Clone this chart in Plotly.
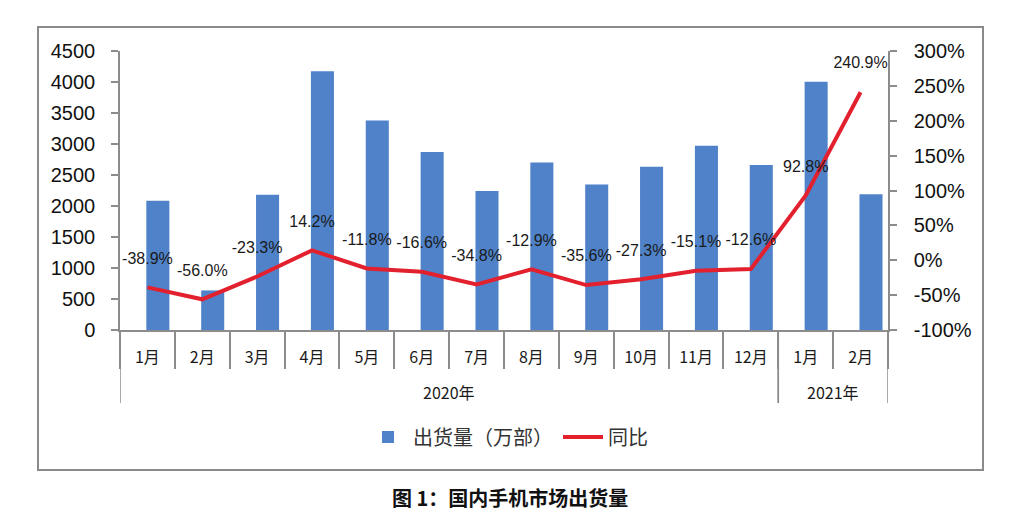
import plotly.graph_objects as go

years = ["2020年"] * 12 + ["2021年"] * 2
months = ["1月", "2月", "3月", "4月", "5月", "6月", "7月", "8月", "9月", "10月", "11月", "12月", "1月", "2月"]
shipments = [2083, 638, 2181, 4173, 3380, 2872, 2241, 2700, 2348, 2634, 2971, 2662, 4005, 2190]
yoy = [-38.9, -56.0, -23.3, 14.2, -11.8, -16.6, -34.8, -12.9, -35.6, -27.3, -15.1, -12.6, 92.8, 240.9]
yoy_labels = [f"{v:.1f}%" for v in yoy]
left_ticks = list(range(0, 4501, 500))
right_ticks = list(range(-100, 301, 50))
right_ticktext = [f"{v}%" for v in right_ticks]

FONT = "Liberation Sans, Arial, Noto Sans CJK SC, sans-serif"
CJK = "Noto Sans CJK SC, Liberation Sans, sans-serif"
AXIS_GRAY = "#8c8c8c"

idx = list(range(len(months)))
groups = []
start = 0
for i in range(1, len(years) + 1):
    if i == len(years) or years[i] != years[start]:
        groups.append((years[start], start - 0.5, i - 0.5))
        start = i
bounds = [i - 0.5 for i in range(len(months) + 1)]

fig = go.Figure()
fig.add_trace(go.Bar(
    x=idx, y=shipments, name="出货量（万部）",
    marker=dict(color="#4F82C8", line=dict(width=0)),
    width=0.42, offset=-0.02, yaxis="y",
))
fig.add_trace(go.Scatter(
    x=idx, y=yoy, name="同比", yaxis="y2",
    mode="lines+markers+text",
    line=dict(color="#E3202E", width=4),
    marker=dict(size=30, color="rgba(0,0,0,0)"),
    text=yoy_labels, textposition="top center",
    textfont=dict(size=16, color="#1a1a1a", family=FONT),
    cliponaxis=False,
))

W, H = 1024, 531
L, R, T, B = 120, 136, 51, 201
pw, ph = W - L - R, H - T - B

def px(x):
    return (x - L) / pw

def py(y):
    return (H - B - y) / ph

shapes = [dict(
    type="rect", xref="paper", yref="paper",
    x0=px(38), x1=px(983), y0=py(470), y1=py(27),
    line=dict(color="#8a8a8a", width=2), fillcolor="rgba(0,0,0,0)", layer="below",
)]
annotations = [dict(
    text="<b>图 1：国内手机市场出货量</b>", xref="paper", yref="paper",
    x=px(510), y=py(497), xanchor="center", yanchor="middle", showarrow=False,
    font=dict(size=20, family=CJK, color="#111"),
)]
for name, a, b in groups:
    for xb in (a, b):
        shapes.append(dict(type="line", xref="x", yref="paper", x0=xb, x1=xb,
                           y0=0, y1=py(403), line=dict(color=AXIS_GRAY, width=1.5)))
    annotations.append(dict(text=name, xref="x", yref="paper", x=(a + b) / 2, y=py(392),
                            xanchor="center", yanchor="middle", showarrow=False,
                            font=dict(size=16, family=CJK, color="#1a1a1a")))

fig.update_layout(
    width=W, height=H,
    margin=dict(l=L, r=R, t=T, b=B),
    paper_bgcolor="white", plot_bgcolor="white",
    font=dict(family=FONT, color="#1a1a1a"),
    showlegend=True,
    xaxis=dict(
        range=[-0.5, len(months) - 0.5],
        tickmode="array", tickvals=idx, ticktext=months,
        ticks="", ticklabelstandoff=12,
        minor=dict(tickmode="array", tickvals=bounds, ticks="outside", ticklen=37,
                   tickcolor=AXIS_GRAY, tickwidth=1.5, showgrid=False),
        showline=True, linecolor=AXIS_GRAY, linewidth=1.5,
        tickfont=dict(size=16, family=CJK, color="#1a1a1a"),
        showgrid=False, zeroline=False,
    ),
    yaxis=dict(
        range=[0, 4500], tickmode="array", tickvals=left_ticks,
        showgrid=False, zeroline=False,
        showline=True, linecolor=AXIS_GRAY, linewidth=1.5,
        ticks="outside", ticklen=7, tickcolor=AXIS_GRAY, tickwidth=1.5,
        tickfont=dict(size=20, family=FONT, color="#111"),
        ticklabelstandoff=12,
    ),
    yaxis2=dict(
        overlaying="y", side="right",
        range=[-100, 300], tickmode="array", tickvals=right_ticks, ticktext=right_ticktext,
        showgrid=False, zeroline=False,
        showline=True, linecolor=AXIS_GRAY, linewidth=1.5,
        ticks="outside", ticklen=7, tickcolor=AXIS_GRAY, tickwidth=1.5,
        tickfont=dict(size=20, family=FONT, color="#111"),
        ticklabelstandoff=13,
    ),
    legend=dict(
        orientation="h", x=px(508), xanchor="center", y=py(437), yanchor="middle",
        font=dict(size=20, family=CJK, color="#333"),
        itemwidth=40, bgcolor="rgba(0,0,0,0)",
    ),
    shapes=shapes,
    annotations=annotations,
)

fig.write_html("out.html")
